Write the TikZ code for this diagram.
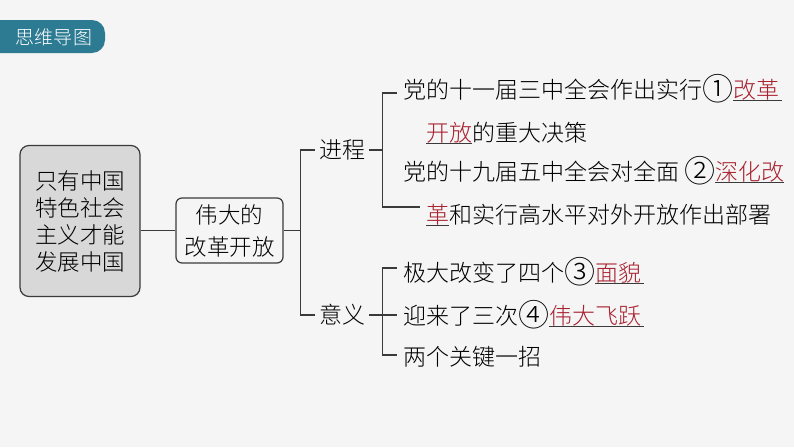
\documentclass[tikz,border=0pt]{standalone}
\usepackage{fontspec}
\setmainfont{Noto Sans CJK SC}[UprightFont=* Light]
\usepackage{tikz}
\usetikzlibrary{positioning}

\definecolor{paper}{HTML}{F5F5F5}
\definecolor{badgeblue}{HTML}{2C7B93}
\definecolor{boxgray}{HTML}{D8D8D8}
\definecolor{inkgray}{HTML}{3A3A3A}
\definecolor{ansred}{HTML}{A8202E}

\newcommand{\fillin}[2]{\makebox[#1][l]{{\color{ansred}#2}}\llap{\textcolor{inkgray}{\rule[-2.6pt]{#1}{1.1pt}}}}
\newcommand{\circnum}[1]{\raisebox{-0.12em}{\scalebox{1.35}{#1}}}

\begin{document}
\begin{tikzpicture}[x=1pt,y=-1pt,
  link/.style={draw=inkgray,line width=1.2pt},
  rootbox/.style={draw=inkgray,fill=boxgray,line width=1.2pt,rounded corners=9pt,
    minimum width=120pt,minimum height=151pt,align=center,
    font=\fontsize{22.5}{27}\selectfont},
  midbox/.style={draw=inkgray,line width=1.2pt,rounded corners=6pt,
    minimum width=107pt,minimum height=65pt,align=center,inner sep=0pt,
    font=\fontsize{22.5}{32}\selectfont},
  branch/.style={inner xsep=4pt,inner ysep=0pt,font=\fontsize{23}{28}\selectfont},
  item/.style={anchor=west,inner xsep=6pt,inner ysep=0pt,font=\fontsize{23}{28}\selectfont}]

  \fill[paper] (0,0) rectangle (794,447);
  \useasboundingbox (0,0) rectangle (794,447);

  % title tab
  \fill[badgeblue,rounded corners=13pt] (-20,20) rectangle (105,53);
  \node[text=white,font=\fontsize{19}{22}\selectfont] (tag) at (54,37) {思维导图};

  \node[rootbox] (root) at (80,221) {只有中国\\特色社会\\主义才能\\发展中国};
  \node[midbox] (mid) at (229.5,230.5) {伟大的\\改革开放};

  \node[branch] (jc) at (342,150) {进程};
  \node[branch] (yy) at (342,315) {意义};

  \node[item] (p1) at (397,89) {党的十一届三中全会作出实行\circnum{①}\fillin{2.1em}{改革}};
  \node[item] (p2) at (420,133) {\fillin{2em}{开放}的重大决策};
  \node[item] (p3) at (397,171) {党的十九届五中全会对全面\kern5pt\circnum{②}\fillin{3em}{深化改}};
  \node[item] (p4) at (420,215) {\fillin{1em}{革}和实行高水平对外开放作出部署};

  \node[item] (s1) at (397,272) {极大改变了四个\circnum{③}\fillin{2.1em}{面貌}};
  \node[item] (s2) at (397,315) {迎来了三次\circnum{④}\fillin{4.1em}{伟大飞跃}};
  \node[item] (s3) at (397,357) {两个关键一招};

  \coordinate (b0) at ([xshift=17pt]mid.east);
  \coordinate (c1) at ([xshift=13pt]jc.east);
  \coordinate (c2) at ([xshift=13pt]yy.east);

  \draw[link] (mid.west -| root.east) -- (mid.west);
  \draw[link] (mid.east) -- (b0);
  \draw[link] (jc.west) -| (b0) |- (yy.west);

  \draw[link] (jc.east) -- (c1);
  \draw[link] ([yshift=-4pt]p1.west) -| (c1) |- ([yshift=8pt]p4.west);

  \draw[link] (yy.east) -- (s2.west);
  \draw[link] ([yshift=4pt]s1.west) -| (c2) |- ([yshift=2pt]s3.west);
\end{tikzpicture}
\end{document}
